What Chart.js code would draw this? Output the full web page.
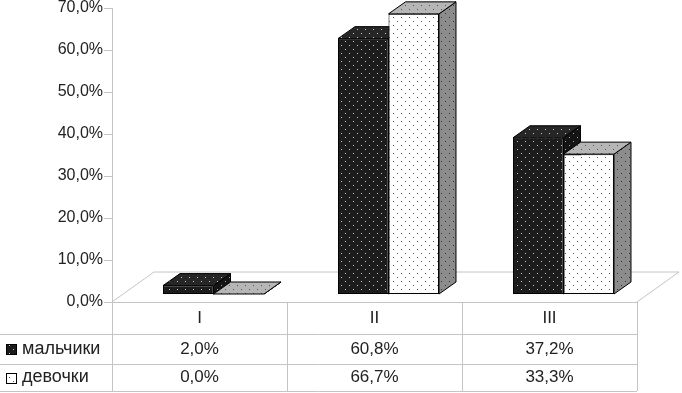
<!DOCTYPE html>
<html>
<head>
<meta charset="utf-8">
<script src="https://cdn.jsdelivr.net/npm/chart.js@4.4.1/dist/chart.umd.min.js"></script>
<style>
  body { margin: 0; background: #fff; }
  #wrap { width: 682px; height: 393px; }
</style>
</head>
<body>
<div id="wrap"><canvas id="chart"></canvas></div>
<script>
const categories = ['I', 'II', 'III'];
const seriesNames = ['мальчики', 'девочки'];
const boys = [2.0, 60.8, 37.2];
const girls = [0.0, 66.7, 33.3];
const yMax = 70;
const yStep = 10;

// 3D look
const DX = 17, DY = -12;       // bar depth
const FDX = 42, FDY = -30;     // floor depth
const SHIFT = 14;              // bars sit in the middle of the floor
const LIFT = 8;                // bar fronts sit above the floor front edge
const FONT = '"Liberation Sans", Arial, sans-serif';
const GRID = '#c4c4c4';

function dots(bg, dot) {
    const c = document.createElement('canvas');
    c.width = 8; c.height = 8;
    const g = c.getContext('2d');
    g.fillStyle = bg;
    g.fillRect(0, 0, 8, 8);
    g.fillStyle = dot;
    g.fillRect(1, 1, 1, 1);
    g.fillRect(5, 5, 1, 1);
    return g.createPattern(c, 'repeat');
}

const fills = {
    darkFront: dots('#1c1c1c', '#c8c8c8'),
    darkTop: dots('#262626', '#c8c8c8'),
    darkSide: dots('#141414', '#aaaaaa'),
    lightFront: dots('#ffffff', '#555555'),
    lightTop: dots('#b6b6b6', '#555555'),
    lightSide: dots('#8c8c8c', '#333333')
};

function fmt(v) {
    return v.toFixed(1).replace('.', ',') + '%';
}

function face(ctx, pts, fill) {
    ctx.beginPath();
    pts.forEach((p, i) => i ? ctx.lineTo(p[0], p[1]) : ctx.moveTo(p[0], p[1]));
    ctx.closePath();
    ctx.fillStyle = fill;
    ctx.fill();
    ctx.strokeStyle = '#000';
    ctx.lineWidth = 1;
    ctx.stroke();
}

function topAndSide(ctx, el, topFill, sideFill) {
    const p = el.getProps(['x', 'y', 'base', 'width'], true);
    const l = p.x - p.width / 2, r = p.x + p.width / 2, t = p.y, b = p.base;
    face(ctx, [[r, b], [r + DX, b + DY], [r + DX, t + DY], [r, t]], sideFill);
    face(ctx, [[l, t], [r, t], [r + DX, t + DY], [l + DX, t + DY]], topFill);
}

const box3d = {
    id: 'box3d',
    beforeDatasetsDraw(chart) {
        const ctx = chart.ctx;
        const y = chart.scales.y;
        const area = chart.chartArea;
        const x0 = area.left - SHIFT, x1 = area.right - SHIFT;
        const yb = y.getPixelForValue(0);
        ctx.save();
        // floor
        ctx.strokeStyle = GRID;
        ctx.lineWidth = 1;
        ctx.beginPath();
        ctx.moveTo(x0, yb); ctx.lineTo(x0 + FDX, yb + FDY);
        ctx.lineTo(x1 + FDX, yb + FDY); ctx.lineTo(x1, yb);
        ctx.stroke();
        // axis line and tick marks
        ctx.beginPath();
        ctx.moveTo(x0 + 0.5, y.getPixelForValue(yMax));
        ctx.lineTo(x0 + 0.5, yb);
        y.ticks.forEach(t => {
            const py = Math.round(y.getPixelForValue(t.value)) + 0.5;
            ctx.moveTo(x0 - 8, py);
            ctx.lineTo(x0, py);
        });
        ctx.stroke();
        // dark bars: top and side first, so the light bars cover them
        chart.getDatasetMeta(0).data.forEach(el => topAndSide(ctx, el, fills.darkTop, fills.darkSide));
        ctx.restore();
    },
    afterDatasetsDraw(chart) {
        const ctx = chart.ctx;
        ctx.save();
        chart.getDatasetMeta(1).data.forEach(el => topAndSide(ctx, el, fills.lightTop, fills.lightSide));
        ctx.restore();
    },
    afterDraw(chart) {
        const ctx = chart.ctx;
        const x = chart.scales.x;
        const area = chart.chartArea;
        const x0 = area.left - SHIFT, x1 = area.right - SHIFT;
        const yb = Math.round(chart.scales.y.getPixelForValue(0));
        const rows = [yb, yb + 32, yb + 62, yb + 89];
        ctx.save();
        ctx.strokeStyle = GRID;
        ctx.lineWidth = 1;
        ctx.beginPath();
        ctx.moveTo(x0, rows[0] + 0.5); ctx.lineTo(x1, rows[0] + 0.5);
        for (let i = 1; i < rows.length; i++) {
            ctx.moveTo(0, rows[i] + 0.5);
            ctx.lineTo(x1, rows[i] + 0.5);
        }
        const cw = (x1 - x0) / categories.length;
        for (let i = 0; i <= categories.length; i++) {
            const cx = Math.round(x0 + i * cw) + 0.5;
            ctx.moveTo(cx, rows[0]);
            ctx.lineTo(cx, rows[3]);
        }
        ctx.stroke();

        ctx.fillStyle = '#222';
        ctx.font = '17px ' + FONT;
        ctx.textAlign = 'center';
        ctx.textBaseline = 'middle';
        categories.forEach((c, i) => {
            const cx = x.getPixelForValue(i) - SHIFT;
            ctx.fillText(c, cx, (rows[0] + rows[1]) / 2);
            ctx.fillText(fmt(boys[i]), cx, (rows[1] + rows[2]) / 2);
            ctx.fillText(fmt(girls[i]), cx, (rows[2] + rows[3]) / 2);
        });

        // row names with legend keys
        ctx.textAlign = 'left';
        ctx.font = '18px ' + FONT;
        const keys = [fills.darkFront, fills.lightFront];
        seriesNames.forEach((name, i) => {
            const cy = (rows[i + 1] + rows[i + 2]) / 2;
            ctx.fillStyle = keys[i];
            ctx.fillRect(6.5, Math.round(cy - 5) + 0.5, 10, 10);
            ctx.strokeStyle = '#000';
            ctx.strokeRect(6.5, Math.round(cy - 5) + 0.5, 10, 10);
            ctx.fillStyle = '#222';
            ctx.fillText(name, 22, cy);
        });
        ctx.restore();
    }
};

const barsMin = -LIFT / (294 / yMax);

new Chart(document.getElementById('chart'), {
    type: 'bar',
    data: {
        labels: categories,
        datasets: [{
            label: seriesNames[0],
            data: boys,
            backgroundColor: fills.darkFront,
            borderColor: '#000',
            borderWidth: 1,
            borderSkipped: false,
            yAxisID: 'yBars'
        }, {
            label: seriesNames[1],
            data: girls,
            backgroundColor: fills.lightFront,
            borderColor: '#000',
            borderWidth: 1,
            borderSkipped: false,
            yAxisID: 'yBars'
        }]
    },
    options: {
        responsive: true,
        maintainAspectRatio: false,
        animation: false,
        layout: { padding: { left: 0, right: 31, top: 8, bottom: 91 } },
        datasets: { bar: { categoryPercentage: 0.577, barPercentage: 1 } },
        scales: {
            x: { display: false },
            y: {
                position: 'left',
                min: 0,
                max: yMax,
                afterFit: s => { s.width = 126; s.paddingTop = 0; s.paddingBottom = 0; },
                grid: { display: false },
                border: { display: false },
                ticks: {
                    stepSize: yStep,
                    padding: 15,
                    color: '#222',
                    font: { family: FONT, size: 16 },
                    callback: v => fmt(v)
                }
            },
            yBars: {
                display: false,
                min: barsMin,
                max: yMax + barsMin
            }
        },
        plugins: {
            legend: { display: false },
            tooltip: { enabled: false }
        }
    },
    plugins: [box3d]
});
</script>
</body>
</html>
